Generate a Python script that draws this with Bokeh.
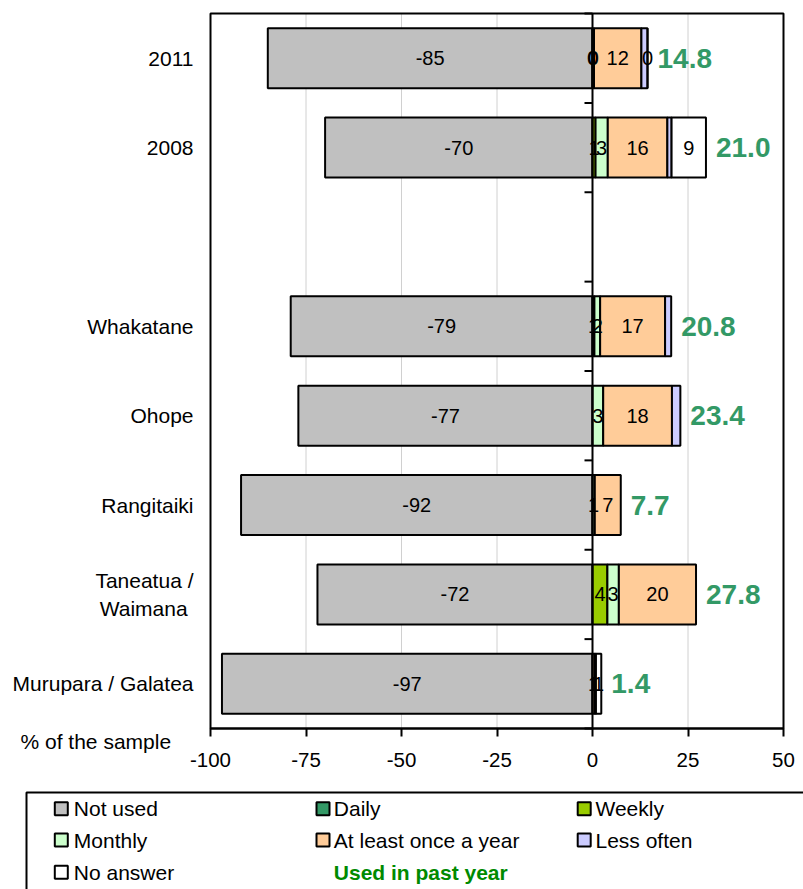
import math
from bokeh.plotting import figure
from bokeh.models import ColumnDataSource, Range1d, FixedTicker, LinearAxis
from bokeh.embed import file_html
from bokeh.resources import INLINE
from bokeh.core.properties import value

# ---------------- data ----------------
categories = ["2011", "2008", "", "Whakatane", "Ohope", "Rangitaiki",
              "Taneatua /\nWaimana ", "Murupara / Galatea"]
not_used = [-85, -70, None, -79, -77, -92, -72, -97]
daily = [0.0, None, None, 0.5, None, None, None, None]
weekly = [None, 0.8, None, None, None, None, 3.9, None]
monthly = [0.4, 3.2, None, 1.5, 2.8, 0.6, 3.0, None]
at_least_yearly = [12.4, 15.6, None, 17.0, 18.0, 6.8, 20.2, 0.6]
less_often = [1.6, 1.1, None, 1.6, 2.2, None, None, 0.3]
no_answer = [0.0, 9.0, None, None, None, None, None, 1.4]
used_past_year = [14.8, 21.0, None, 20.8, 23.4, 7.7, 27.8, 1.4]

series_names = ["Not used", "Daily", "Weekly", "Monthly",
                "At least once a year", "Less often", "No answer"]
series_colors = ["#C0C0C0", "#339966", "#99CC00", "#CCFFCC",
                 "#FFCC99", "#CCCCFF", "#FFFFFF"]
series_labelled = [True, True, True, True, True, False, True]
x_ticks = [-100, -75, -50, -25, 0, 25, 50]
used_label = "Used in past year"
axis_title = "% of the sample"

FONT = "Liberation Sans"
TOTAL_COLOR = "#339966"
USED_COLOR = "#008A00"


def fmt(v):
    s = int(math.floor(abs(v) + 0.5))
    return ("-" if v < 0 and s != 0 else "") + str(s)


n = len(categories)
ys = list(range(n))

# ---------------- layout geometry (pixels) ----------------
W, H = 803, 889
F_LEFT, F_RIGHT, F_TOP, F_BOTTOM = 210, 783, 13, 728
KX = (x_ticks[-1] - x_ticks[0]) / (F_RIGHT - F_LEFT)
KY = n / (F_BOTTOM - F_TOP)


def X(px):
    return x_ticks[0] + (px - F_LEFT) * KX


def Y(py):
    return -0.5 + (py - F_TOP) * KY


p = figure(width=W, height=H, output_backend="svg", toolbar_location=None,
           x_range=Range1d(X(0), X(W)), y_range=Range1d(Y(H), Y(0)),
           x_axis_location=None, y_axis_location=None)
p.min_border = 0
p.grid.visible = False
p.outline_line_color = None
p.background_fill_color = "white"
p.border_fill_color = "white"

y_top, y_bot = -0.5, n - 0.5

# vertical gridlines (inside plot box only)
p.segment(x0=x_ticks, x1=x_ticks, y0=[y_top] * len(x_ticks), y1=[y_bot] * len(x_ticks),
          line_color="#D0D0D0", line_width=1)

# x axis along the bottom of the plot box
xa = LinearAxis(fixed_location=y_bot, ticker=FixedTicker(ticks=x_ticks),
                bounds=(x_ticks[0], x_ticks[-1]))
xa.major_label_overrides = {t: str(t) for t in x_ticks}
xa.axis_line_width = 2
xa.axis_line_color = "black"
xa.major_tick_line_color = "black"
xa.major_tick_line_width = 2
xa.major_tick_out = 8
xa.major_tick_in = 0
xa.minor_tick_line_color = None
xa.major_label_standoff = 16
xa.major_label_text_font = FONT
xa.major_label_text_font_size = "20.5px"
xa.major_label_text_color = "black"
p.add_layout(xa, "below")

# category axis along the left of the plot box
cat_ticks = [i for i, c in enumerate(categories) if c]
ya = LinearAxis(fixed_location=x_ticks[0], ticker=FixedTicker(ticks=cat_ticks))
ya.major_label_overrides = {i: categories[i] for i in cat_ticks}
ya.axis_line_color = None
ya.major_tick_line_color = None
ya.minor_tick_line_color = None
ya.major_tick_out = 0
ya.major_tick_in = 0
ya.major_label_standoff = 17
ya.major_label_text_font = FONT
ya.major_label_text_font_size = "21px"
ya.major_label_text_color = "black"
ya.major_label_text_align = "right"
p.add_layout(ya, "left")

# zero line with ticks at category boundaries
bounds = [i - 0.5 for i in range(n + 1)]
p.segment(x0=[-8 * KX] * len(bounds), x1=[0] * len(bounds), y0=bounds, y1=bounds,
          line_color="black", line_width=2)

BAR_H = 0.67

# not used bars
nu_y = [y for y, v in zip(ys, not_used) if v is not None]
nu_v = [v for v in not_used if v is not None]
src_nu = ColumnDataSource(dict(y=nu_y, left=nu_v, right=[0] * len(nu_v),
                               xc=[v / 2 for v in nu_v], lab=[fmt(v) for v in nu_v]))
p.hbar(y="y", left="left", right="right", height=BAR_H, source=src_nu,
       fill_color=series_colors[0], line_color="black", line_width=2)

positive_series = [daily, weekly, monthly, at_least_yearly, less_often, no_answer]
cum = [0.0] * n
label_sources = []
if series_labelled[0]:
    label_sources.append(src_nu)
for k, vals in enumerate(positive_series):
    d = dict(y=[], left=[], right=[], xc=[], lab=[])
    for i, v in enumerate(vals):
        if v is None:
            continue
        l = cum[i]
        r = l + v
        cum[i] = r
        d["y"].append(i)
        d["left"].append(l)
        d["right"].append(r)
        d["xc"].append((l + r) / 2)
        d["lab"].append(fmt(v))
    src = ColumnDataSource(d)
    p.hbar(y="y", left="left", right="right", height=BAR_H, source=src,
           fill_color=series_colors[k + 1], line_color="black", line_width=2)
    if series_labelled[k + 1]:
        label_sources.append(src)

# zero line on top of bars
p.segment(x0=[0], x1=[0], y0=[y_top], y1=[y_bot], line_color="black", line_width=2)

for src in label_sources:
    p.text(x="xc", y="y", text="lab", source=src, text_align="center",
           text_baseline="middle", text_font=value(FONT),
           text_font_size="20px", text_color="black")

# totals
t_y = [i for i, v in enumerate(used_past_year) if v is not None]
t_x = [cum[i] for i in t_y]
t_lab = [f"{used_past_year[i]:.1f}" for i in t_y]
src_t = ColumnDataSource(dict(x=t_x, y=t_y, lab=t_lab))
p.text(x="x", y="y", text="lab", source=src_t, x_offset=10,
       text_align="left", text_baseline="middle", text_font=value(FONT),
       text_font_size="28px", text_font_style="bold", text_color=TOTAL_COLOR)

# plot-area box
p.quad(left=[x_ticks[0]], right=[x_ticks[-1]], top=[y_top], bottom=[y_bot],
       fill_color=None, line_color="black", line_width=2)

# "% of the sample"
p.text(x=[X(20)], y=[Y(741)], text=[axis_title], text_align="left",
       text_baseline="middle", text_font=value(FONT), text_font_size="21px",
       text_color="black")

# ---------------- legend ----------------
p.quad(left=[X(26)], right=[X(860)], top=[Y(792)], bottom=[Y(930)],
       fill_color=None, line_color="black", line_width=2)

col_sq = [60.8, 322.5, 583.7]
col_tx = [73.3, 333.3, 595.0]
row_y = [808.3, 839.5, 871.7]

lx, ly, lc, tx, ty, tt = [], [], [], [], [], []
for k, name in enumerate(series_names):
    r, c = divmod(k, 3)
    lx.append(X(col_sq[c])); ly.append(Y(row_y[r])); lc.append(series_colors[k])
    tx.append(X(col_tx[c])); ty.append(Y(row_y[r])); tt.append(name)
p.scatter(x=lx, y=ly, marker="square", size=13, fill_color=lc,
          line_color="black", line_width=2)
p.text(x=tx, y=ty, text=tt, text_align="left", text_baseline="middle",
       text_font=value(FONT), text_font_size="21px", text_color="black")
p.text(x=[X(col_tx[1])], y=[Y(row_y[2])], text=[used_label], text_align="left",
       text_baseline="middle", text_font=value(FONT), text_font_size="21px",
       text_font_style="bold", text_color=USED_COLOR)

open("out.html", "w").write(file_html(p, INLINE))
